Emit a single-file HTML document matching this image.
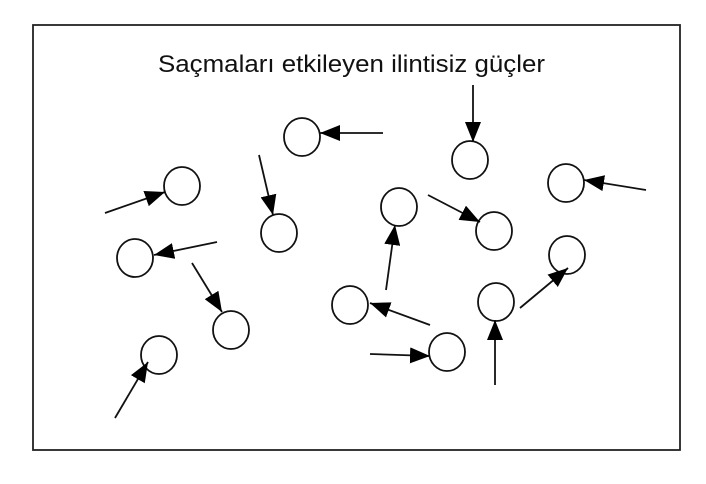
<!DOCTYPE html>
<html><head><meta charset="utf-8"><style>
html,body{margin:0;padding:0;background:#fff;width:706px;height:484px;overflow:hidden}
</style></head><body>
<svg width="706" height="484" viewBox="0 0 706 484" xmlns="http://www.w3.org/2000/svg">
<defs>
<marker id="b" viewBox="0 0 20 16" markerWidth="20" markerHeight="16" refX="20" refY="8" orient="auto" markerUnits="userSpaceOnUse"><path d="M0,0 L20,8 L0,16 Z" fill="#000"/></marker></defs>
<rect x="33" y="25" width="647" height="425" fill="none" stroke="#222" stroke-width="1.8"/>
<text x="158" y="72" textLength="387" lengthAdjust="spacingAndGlyphs" font-family="Liberation Sans, sans-serif" font-size="24" fill="#111">Saçmaları etkileyen ilintisiz güçler</text>
<g fill="none" stroke="#111" stroke-width="1.8">
<ellipse cx="302" cy="137" rx="18" ry="19"/><ellipse cx="182" cy="186" rx="18" ry="19"/><ellipse cx="470" cy="160" rx="18" ry="19"/>
<ellipse cx="566" cy="183" rx="18" ry="19"/><ellipse cx="279" cy="233" rx="18" ry="19"/><ellipse cx="399" cy="207" rx="18" ry="19"/>
<ellipse cx="494" cy="231" rx="18" ry="19"/><ellipse cx="135" cy="258" rx="18" ry="19"/><ellipse cx="567" cy="255" rx="18" ry="19"/>
<ellipse cx="350" cy="305" rx="18" ry="19"/><ellipse cx="496" cy="302" rx="18" ry="19"/><ellipse cx="231" cy="330" rx="18" ry="19"/>
<ellipse cx="447" cy="352" rx="18" ry="19"/><ellipse cx="159" cy="355" rx="18" ry="19"/>
</g>
<g stroke="#111" stroke-width="1.8" marker-end="url(#b)">
<line x1="383" y1="133" x2="320" y2="133"/>
<line x1="105" y1="213" x2="165" y2="192"/>
<line x1="473" y1="85" x2="473" y2="142"/>
<line x1="646" y1="190" x2="584" y2="180"/>
<line x1="259" y1="155" x2="273" y2="215"/>
<line x1="428" y1="195" x2="480" y2="222"/>
<line x1="217" y1="242" x2="154" y2="255"/>
<line x1="386" y1="290" x2="395" y2="225"/>
<line x1="192" y1="263" x2="222" y2="312"/>
<line x1="430" y1="325" x2="370" y2="303"/>
<line x1="370" y1="354" x2="430" y2="356"/>
<line x1="495" y1="385" x2="495" y2="320"/>
<line x1="520" y1="308" x2="568" y2="268"/>
<line x1="115" y1="418" x2="148" y2="362"/>
</g>
</svg>
</body></html>
